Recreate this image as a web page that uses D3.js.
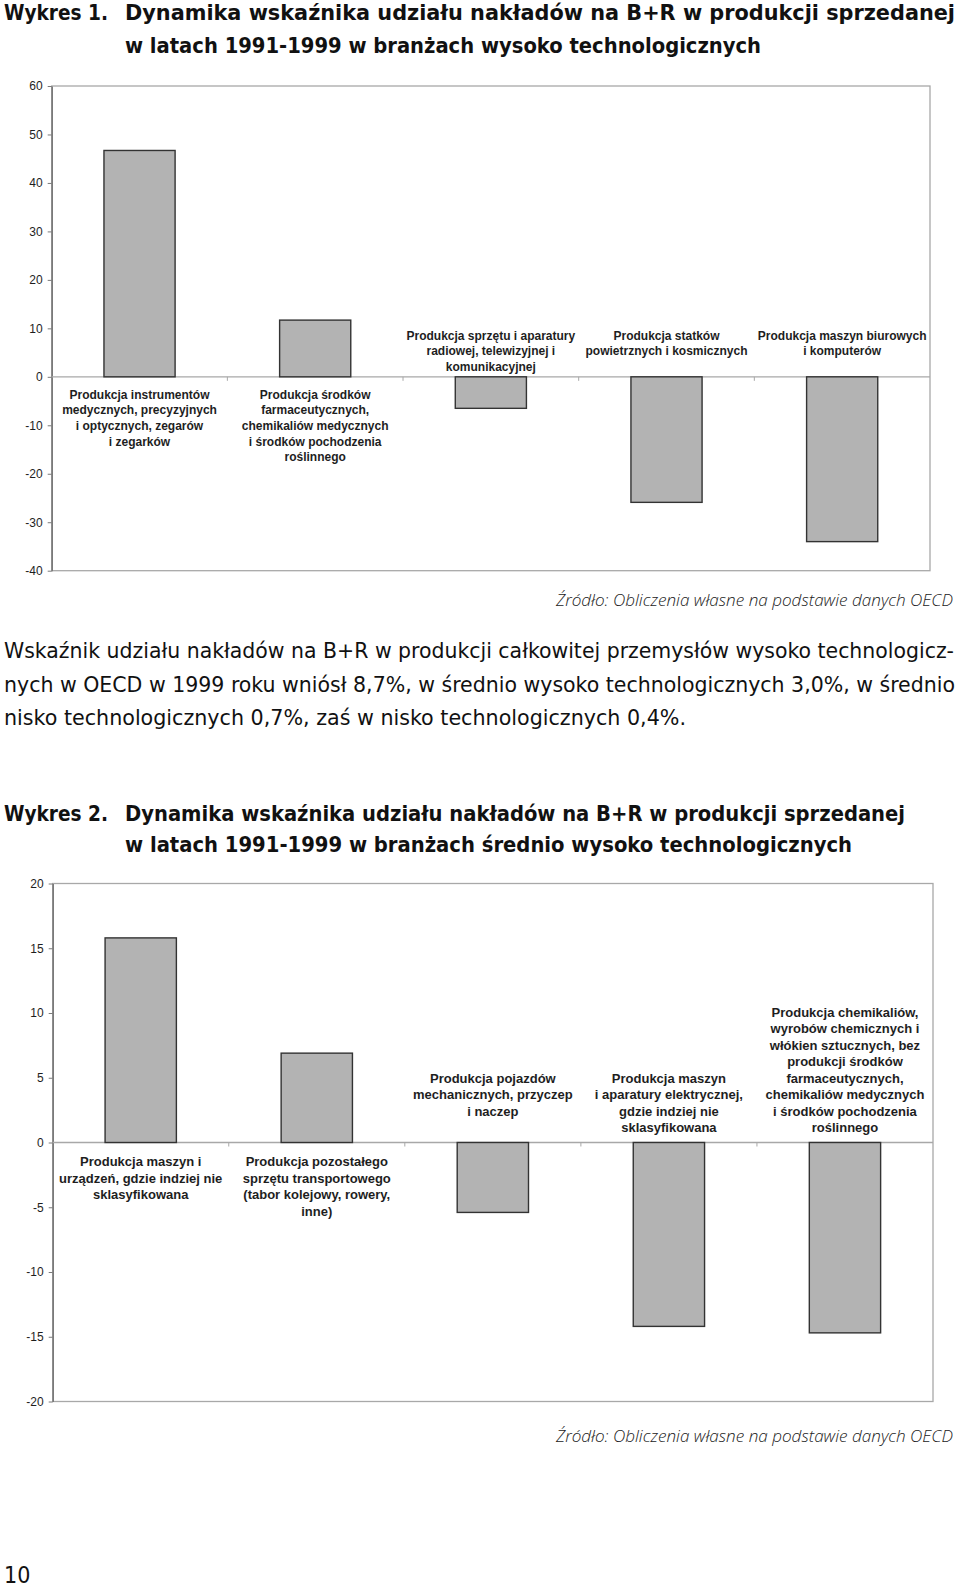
<!DOCTYPE html>
<html>
<head>
<meta charset="utf-8">
<script src="https://cdn.jsdelivr.net/npm/d3@7"></script>
<style>
    body { margin: 0; background: #fff; }
    svg { display: block; }
    .cat-label { font-family: "Liberation Sans", Arial, sans-serif; font-weight: bold; fill: #1e1e1e; }
    .y-axis text { font-family: "Liberation Sans", Arial, sans-serif; font-size: 12px; fill: #1e1e1e; }
    .doc-title { font-family: "Liberation Sans Narrow", "DejaVu Sans Condensed", "Liberation Sans", sans-serif; font-weight: bold; font-size: 21px; fill: #111; }
    .doc-text { font-family: "Liberation Sans Narrow", "DejaVu Sans Condensed", "Liberation Sans", sans-serif; font-size: 21px; fill: #111; }
    .doc-source { font-family: "Open Sans", "Liberation Sans", sans-serif; font-style: italic; font-weight: 300; font-size: 16.5px; fill: #222; }
</style>
</head>
<body>
<div id="page"></div>
<script>

// ---- data: chart 1 (wysoko technologiczne) ----
let categories1 = [
    ["Produkcja instrumentów", "medycznych, precyzyjnych", "i optycznych, zegarów", "i zegarków"],
    ["Produkcja środków", "farmaceutycznych,", "chemikaliów medycznych", "i środków pochodzenia", "roślinnego"],
    ["Produkcja sprzętu i aparatury", "radiowej, telewizyjnej i", "komunikacyjnej"],
    ["Produkcja statków", "powietrznych i kosmicznych"],
    ["Produkcja maszyn biurowych", "i komputerów"]
];
let values1 = [46.7, 11.7, -6.5, -25.9, -34.0];
let ticks1 = [60, 50, 40, 30, 20, 10, 0, -10, -20, -30, -40];

// ---- data: chart 2 (średnio wysoko technologiczne) ----
let categories2 = [
    ["Produkcja maszyn i", "urządzeń, gdzie indziej nie", "sklasyfikowana"],
    ["Produkcja pozostałego", "sprzętu transportowego", "(tabor kolejowy, rowery,", "inne)"],
    ["Produkcja pojazdów", "mechanicznych, przyczep", "i naczep"],
    ["Produkcja maszyn", "i aparatury elektrycznej,", "gdzie indziej nie", "sklasyfikowana"],
    ["Produkcja chemikaliów,", "wyrobów chemicznych i", "włókien sztucznych, bez", "produkcji środków",
        "farmaceutycznych,", "chemikaliów medycznych", "i środków pochodzenia", "roślinnego"]
];
let values2 = [15.8, 6.9, -5.4, -14.2, -14.7];
let ticks2 = [20, 15, 10, 5, 0, -5, -10, -15, -20];

// ---- page texts ----
let title1 = ["Wykres 1.", "Dynamika wskaźnika udziału nakładów na B+R w produkcji sprzedanej",
    "w latach 1991-1999 w branżach wysoko technologicznych"];
let title2 = ["Wykres 2.", "Dynamika wskaźnika udziału nakładów na B+R w produkcji sprzedanej",
    "w latach 1991-1999 w branżach średnio wysoko technologicznych"];
let paragraph = [
    "Wskaźnik udziału nakładów na B+R w produkcji całkowitej przemysłów wysoko technologicz-",
    "nych w OECD w 1999 roku wniósł 8,7%, w średnio wysoko technologicznych 3,0%, w średnio",
    "nisko technologicznych 0,7%, zaś w nisko technologicznych 0,4%."
];
let sourceText = "Źródło: Obliczenia własne na podstawie danych OECD";
let pageNumber = "10";


class BarVis {

    constructor(svg, cfg, labels, values, ticks) {
        this.svg = svg;
        this.cfg = cfg;
        this.labels = labels;
        this.values = values;
        this.ticks = ticks;

        this.initVis();
    }

    initVis() {
        let vis = this;
        let c = vis.cfg;

        vis.displayData = vis.values.map((v, i) => ({id: i, value: v, lines: vis.labels[i]}));

        // scales
        vis.x = d3.scaleBand()
            .domain(vis.displayData.map(d => d.id))
            .range([c.left, c.right])
            .paddingInner(0).paddingOuter(0);

        vis.y = d3.scaleLinear()
            .domain([d3.min(vis.ticks), d3.max(vis.ticks)])
            .range([c.bottom, c.top]);

        vis.g = vis.svg.append('g').attr('class', 'bar-chart');

        // plot border
        vis.g.append('rect')
            .attr('x', c.left).attr('y', c.top)
            .attr('width', c.right - c.left)
            .attr('height', c.bottom - c.top)
            .attr('fill', 'none')
            .attr('stroke', '#a8a8a8')
            .attr('stroke-width', 1.3);

        // y axis (plain hyphen for negatives, like the original)
        vis.g.append('g')
            .attr('class', 'y-axis')
            .attr('transform', `translate(${c.left},0)`)
            .call(d3.axisLeft(vis.y).tickValues(vis.ticks).tickSize(4).tickSizeOuter(0).tickPadding(5).tickFormat(d => String(d)))
            .call(g => g.selectAll('line').attr('stroke', '#7a7a7a'))
            .call(g => g.select('.domain').attr('stroke', '#7a7a7a').attr('stroke-width', 1.6));

        vis.updateVis();
    }

    updateVis() {
        let vis = this;
        let c = vis.cfg;
        let y0 = vis.y(0);
        let bw = vis.x.bandwidth() * 0.405;

        // zero line + category ticks
        vis.g.append('line')
            .attr('x1', c.left).attr('x2', c.right)
            .attr('y1', y0).attr('y2', y0)
            .attr('stroke', '#a8a8a8').attr('stroke-width', 1.3);

        vis.g.selectAll('.cat-tick')
            .data(vis.displayData.slice(0, -1))
            .enter().append('line')
            .attr('class', 'cat-tick')
            .attr('x1', d => vis.x(d.id) + vis.x.step())
            .attr('x2', d => vis.x(d.id) + vis.x.step())
            .attr('y1', y0).attr('y2', y0 + 4)
            .attr('stroke', '#a8a8a8');

        // bars
        vis.g.selectAll('.bar')
            .data(vis.displayData)
            .enter().append('rect')
            .attr('class', 'bar')
            .attr('x', d => vis.x(d.id) + (vis.x.bandwidth() - bw) / 2)
            .attr('y', d => Math.min(vis.y(d.value), y0))
            .attr('width', bw)
            .attr('height', d => Math.abs(vis.y(d.value) - y0))
            .attr('fill', '#b3b3b3')
            .attr('stroke', '#333')
            .attr('stroke-width', 1.4);

        // category labels: below axis for positive bars, above for negative
        let labels = vis.g.selectAll('.cat-label')
            .data(vis.displayData)
            .enter().append('text')
            .attr('class', 'cat-label')
            .attr('font-size', c.fontSize)
            .attr('text-anchor', 'middle');

        labels.each(function(d) {
            let n = d.lines.length;
            let start;
            if (d.value >= 0) {
                start = y0 + c.posGap;
            } else {
                start = y0 - c.negGap - (Math.max(n, c.minLines) - 1) * c.lineH;
            }
            d3.select(this).selectAll('tspan')
                .data(d.lines)
                .enter().append('tspan')
                .attr('x', vis.x(d.id) + vis.x.bandwidth() / 2)
                .attr('y', (t, i) => start + i * c.lineH + c.fontSize * 0.35)
                .text(t => t);
        });
    }
}


// == SVG == //
let svg = d3.select('#page').append('svg')
    .attr('width', 960)
    .attr('height', 1589);

function addLine(cls, text, x, y, len) {
    let t = svg.append('text')
        .attr('class', cls)
        .attr('x', x).attr('y', y)
        .text(text);
    if (len) t.attr('textLength', len).attr('lengthAdjust', 'spacingAndGlyphs');
    return t;
}

// title 1
addLine('doc-title', title1[0], 4, 20, 104);
addLine('doc-title', title1[1], 125, 20, 830);
addLine('doc-title', title1[2], 125, 53, 636);

new BarVis(svg, {
    left: 51.7, right: 930, top: 86, bottom: 570.7,
    fontSize: 12, lineH: 15.7, posGap: 17.5, negGap: 10, minLines: 3
}, categories1, values1, ticks1);

addLine('doc-source', sourceText, 556, 606, 397);

// paragraph
addLine('doc-text', paragraph[0], 4, 658, 950);
addLine('doc-text', paragraph[1], 4, 691.5, 951);
addLine('doc-text', paragraph[2], 4, 725, 682);

// title 2
addLine('doc-title', title2[0], 4, 820.5, 104);
addLine('doc-title', title2[1], 125, 820.5, 780);
addLine('doc-title', title2[2], 125, 852, 727);

new BarVis(svg, {
    left: 52.7, right: 933, top: 883.5, bottom: 1401.5,
    fontSize: 13, lineH: 16.5, posGap: 19, negGap: 15, minLines: 4
}, categories2, values2, ticks2);

addLine('doc-source', sourceText, 556, 1442, 397);

// page number
svg.append('text')
    .attr('class', 'doc-text')
    .attr('x', 4).attr('y', 1583)
    .style('font-size', '23px')
    .text(pageNumber);

</script>
</body>
</html>
